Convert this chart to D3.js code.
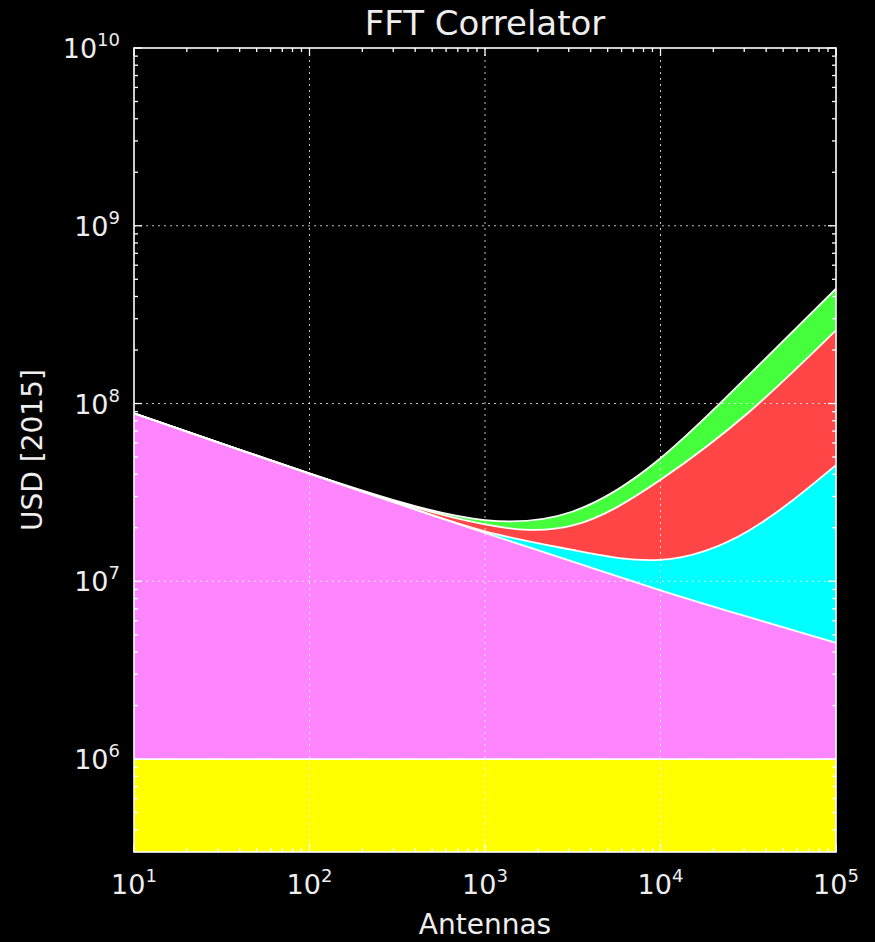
<!DOCTYPE html>
<html>
<head>
<meta charset="utf-8">
<script src="https://cdn.jsdelivr.net/npm/d3@7"></script>
<style>
  html, body { margin: 0; padding: 0; background: #000; }
  svg { display: block; font-family: "DejaVu Sans", sans-serif; }
</style>
</head>
<body>
<svg id="chart" width="875" height="942"></svg>
<script>
// values (USD, stacked from bottom to top)
const antennas = [10, 31.6, 100, 316, 1000, 3162, 10000, 31620, 100000]
const yellowCost = [1e6, 1e6, 1e6, 1e6, 1e6, 1e6, 1e6, 1e6, 1e6]
const magentaCost = [8.7e7, 5.85e7, 3.93e7, 2.64e7, 1.77e7, 1.19e7, 7.9e6, 5.3e6, 3.5e6]
const cyanCost = [0, 0, 2e4, 1e5, 4e5, 2.1e6, 4.3e6, 1.29e7, 4.05e7]
const redCost = [5e3, 2e4, 8e4, 4e5, 1.8e6, 5.6e6, 2.4e7, 6.95e7, 2.13e8]
const greenCost = [5e3, 2e4, 8e4, 3.5e5, 1.2e6, 4.1e6, 1.2e7, 5.5e7, 1.85e8]

const layerKeys = ['yellow', 'magenta', 'cyan', 'red', 'green']
const layerColors = ['#ffff00', '#ff85ff', '#00ffff', '#ff4545', '#45ff3c']

const xTicks = [10, 100, 1000, 10000, 100000]
const yTicks = [1e6, 1e7, 1e8, 1e9, 1e10]

const title = 'FFT Correlator'
const xLabel = 'Antennas'
const yLabel = 'USD [2015]'

const margin = { left: 134, right: 39, top: 48, bottom: 90 }
const width = 875 - margin.left - margin.right
const height = 942 - margin.top - margin.bottom

const svg = d3.select('#chart')
const g = svg.append('g').attr('transform', `translate(${margin.left},${margin.top})`)

const x = d3.scaleLog().domain([10, 1e5]).range([0, width])
const y = d3.scaleLog().domain([3e5, 1e10]).range([height, 0])

// table for the stack
const rows = antennas.map((n, i) => ({
  n,
  yellow: yellowCost[i],
  magenta: magentaCost[i],
  cyan: cyanCost[i],
  red: redCost[i],
  green: greenCost[i]
}))
const series = d3.stack().keys(layerKeys)(rows)

const yMin = y.domain()[0]
const curve = d3.curveNatural

g.append('clipPath').attr('id', 'clip')
  .append('rect').attr('width', width).attr('height', height)

const plot = g.append('g').attr('clip-path', 'url(#clip)')

const area = d3.area()
  .curve(curve)
  .x((d) => x(d.data.n))
  .y0((d) => y(Math.max(d[0], yMin)))
  .y1((d) => y(Math.max(d[1], yMin)))

plot.selectAll('.layer')
  .data(series)
  .join('path')
  .attr('class', 'layer')
  .attr('fill', (s, i) => layerColors[i])
  .attr('d', area)

const topLine = d3.line()
  .curve(curve)
  .x((d) => x(d.data.n))
  .y((d) => y(Math.max(d[1], yMin)))

plot.selectAll('.edge')
  .data(series)
  .join('path')
  .attr('class', 'edge')
  .attr('fill', 'none')
  .attr('stroke', '#fff')
  .attr('stroke-width', 1.8)
  .attr('d', topLine)

// dotted grid at the decades
const grid = g.append('g').attr('stroke', '#fff').attr('stroke-opacity', 0.75)
  .attr('stroke-width', 1).attr('stroke-dasharray', '2,4')
grid.selectAll('.gx').data(xTicks.slice(1, -1)).join('line')
  .attr('x1', (d) => x(d)).attr('x2', (d) => x(d))
  .attr('y1', 0).attr('y2', height)
grid.selectAll('.gy').data(yTicks.slice(0, -1)).join('line')
  .attr('y1', (d) => y(d)).attr('y2', (d) => y(d))
  .attr('x1', 0).attr('x2', width)

// ticks inside on all four sides
const xMinor = []
for (let e = 1; e < 5; e++) for (let k = 2; k < 10; k++) xMinor.push(k * Math.pow(10, e))
const yMinor = []
for (let e = 5; e < 10; e++) for (let k = 2; k < 10; k++) {
  const v = k * Math.pow(10, e)
  if (v > yMin) yMinor.push(v)
}

const ticks = g.append('g').attr('stroke', '#fff').attr('stroke-width', 1.3)
const majorLen = 8
const minorLen = 4
function drawXTicks (vals, len) {
  ticks.selectAll(null).data(vals).join('line')
    .attr('x1', (d) => x(d)).attr('x2', (d) => x(d))
    .attr('y1', height).attr('y2', height - len)
  ticks.selectAll(null).data(vals).join('line')
    .attr('x1', (d) => x(d)).attr('x2', (d) => x(d))
    .attr('y1', 0).attr('y2', len)
}
function drawYTicks (vals, len) {
  ticks.selectAll(null).data(vals).join('line')
    .attr('y1', (d) => y(d)).attr('y2', (d) => y(d))
    .attr('x1', 0).attr('x2', len)
  ticks.selectAll(null).data(vals).join('line')
    .attr('y1', (d) => y(d)).attr('y2', (d) => y(d))
    .attr('x1', width).attr('x2', width - len)
}
drawXTicks(xTicks, majorLen)
drawXTicks(xMinor, minorLen)
drawYTicks(yTicks, majorLen)
drawYTicks(yMinor, minorLen)

// frame
g.append('rect')
  .attr('width', width).attr('height', height)
  .attr('fill', 'none').attr('stroke', '#fff').attr('stroke-width', 1.6)

// tick labels as 10^n
const labelColor = '#eeeeee'
function powerLabel (sel) {
  sel.append('tspan').text('10')
  sel.append('tspan')
    .attr('dy', -12)
    .attr('font-size', 18)
    .text((d) => Math.round(Math.log10(d)))
}

g.selectAll('.xlab').data(xTicks).join('text')
  .attr('class', 'xlab')
  .attr('x', (d) => x(d))
  .attr('y', height + 42)
  .attr('text-anchor', 'middle')
  .attr('fill', labelColor)
  .attr('font-size', 27)
  .call(powerLabel)

g.selectAll('.ylab').data(yTicks).join('text')
  .attr('class', 'ylab')
  .attr('x', -14)
  .attr('y', (d) => y(d) + 10)
  .attr('text-anchor', 'end')
  .attr('fill', labelColor)
  .attr('font-size', 27)
  .call(powerLabel)

svg.append('text')
  .attr('x', margin.left + width / 2)
  .attr('y', 35)
  .attr('text-anchor', 'middle')
  .attr('fill', labelColor)
  .attr('font-size', 34)
  .text(title)

svg.append('text')
  .attr('x', margin.left + width / 2)
  .attr('y', 934)
  .attr('text-anchor', 'middle')
  .attr('fill', labelColor)
  .attr('font-size', 28)
  .text(xLabel)

svg.append('text')
  .attr('transform', `translate(42,${margin.top + height / 2}) rotate(-90)`)
  .attr('text-anchor', 'middle')
  .attr('fill', labelColor)
  .attr('font-size', 28)
  .text(yLabel)
</script>
</body>
</html>
